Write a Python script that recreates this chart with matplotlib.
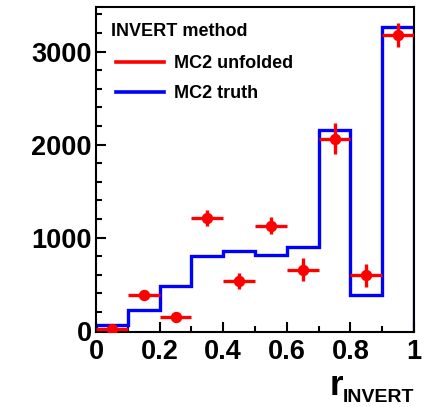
import matplotlib
matplotlib.use("Agg")
import matplotlib.pyplot as plt
import numpy as np
from matplotlib.ticker import MultipleLocator
from matplotlib.lines import Line2D

plt.rcParams['font.family'] = ['Liberation Sans', 'DejaVu Sans']
plt.rcParams['font.weight'] = 'bold'

bin_edges = [0.0, 0.1, 0.2, 0.3, 0.4, 0.5, 0.6, 0.7, 0.8, 0.9, 1.0]
truth = [55, 226, 477, 800, 853, 810, 900, 2155, 384, 3261]
unfolded = [18, 387, 150, 1212, 530, 1129, 656, 2065, 595, 3175]
unfolded_err = [55, 40, 40, 86, 86, 88, 127, 165, 125, 130]
legend_title = 'INVERT method'
legend_labels = ['MC2 unfolded', 'MC2 truth']

W, H = 429, 407
fig = plt.figure(figsize=(W/100, H/100), dpi=100)
ax = fig.add_axes([96/W, 1-332/H, (414-96)/W, (332-7)/H])

edges = np.array(bin_edges)
centers = 0.5*(edges[:-1]+edges[1:])
halfw = 0.5*np.diff(edges)

ax.stairs(truth, edges, color='#0000ff', lw=2.4, zorder=2)
ax.errorbar(centers, unfolded, xerr=halfw, yerr=unfolded_err, fmt='o',
            color='#ff0000', ms=7.2, elinewidth=2.4, capsize=0, zorder=3)

ax.set_xlim(0, 1)
ax.set_ylim(-15, 3480)
ax.xaxis.set_minor_locator(MultipleLocator(0.1))
ax.yaxis.set_major_locator(MultipleLocator(1000))
ax.yaxis.set_minor_locator(MultipleLocator(200))
ax.set_xticks([0, 0.2, 0.4, 0.6, 0.8, 1.0])
ax.set_xticklabels(['0', '0.2', '0.4', '0.6', '0.8', '1'])
ax.tick_params(which='both', direction='in', width=1.5, labelsize=19.5)
ax.tick_params(which='major', length=7)
ax.tick_params(which='minor', length=4.5)
ax.tick_params(axis='x', pad=5)
ax.tick_params(axis='y', pad=3)
for lab in ax.get_xticklabels() + ax.get_yticklabels():
    lab.set_fontweight('bold')
for s in ax.spines.values():
    s.set_linewidth(1.5)

# axis title r_INVERT
fig.text(330/W, 1-395/H, 'r', ha='left', va='baseline', fontsize=25,
         fontweight='bold')
fig.text(343/W, 1-402/H, 'INVERT', ha='left', va='baseline', fontsize=14,
         fontweight='bold')

# legend (drawn manually to match placement)
fig.text(111/W, 1-31.5/H, legend_title, fontsize=13, fontweight='bold',
         va='center', ha='left')
for yy, col, lab in [(62, '#ff0000', legend_labels[0]),
                     (92, '#0000ff', legend_labels[1])]:
    fig.add_artist(Line2D([116/W, 164/W], [1-yy/H, 1-yy/H], color=col,
                          lw=2.6, transform=fig.transFigure))
    fig.text(174/W, 1-(yy+1)/H, lab, fontsize=13, fontweight='bold',
             va='center', ha='left')

fig.savefig('out.png', dpi=100)
